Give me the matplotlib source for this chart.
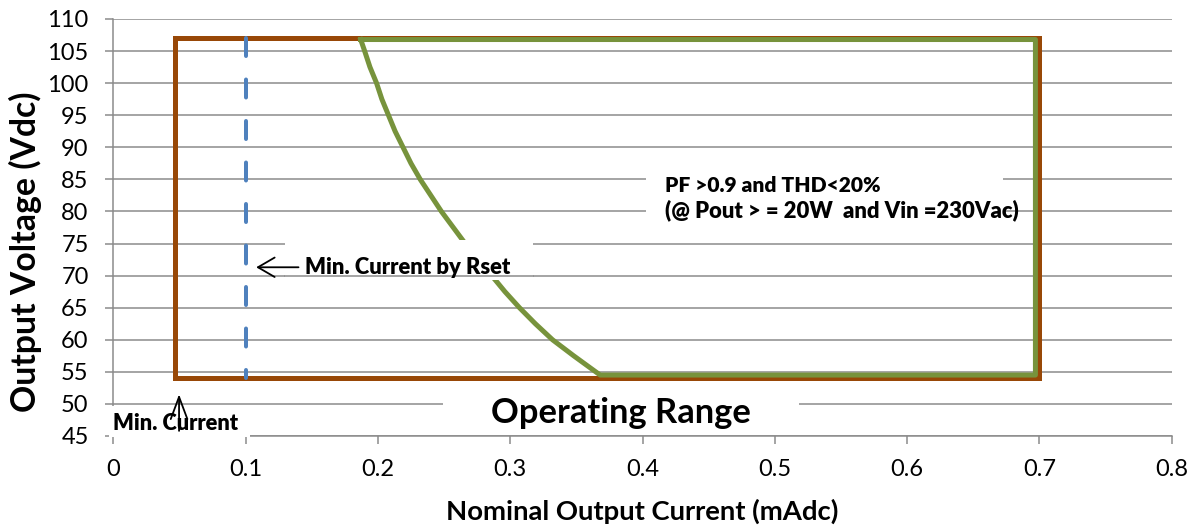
import matplotlib
matplotlib.use("Agg")
import matplotlib.pyplot as plt
from matplotlib.patches import Rectangle

# ---------------- data ----------------
# Operating range box (brown)
range_current = [0.047, 0.047, 0.700, 0.700, 0.047]
range_voltage = [54.0, 107.0, 107.0, 54.0, 54.0]

# Minimum current set by Rset (blue dashed), drawn top to bottom
rset_current = [0.1, 0.1]
rset_voltage = [107.0, 54.0]

# PF / THD region (green): top edge, right edge, bottom edge, 20 W curve back up
pf_current = [0.187, 0.697, 0.697, 0.368, 0.348, 0.332, 0.319, 0.307, 0.296, 0.286, 0.276,
              0.266, 0.257, 0.248, 0.240, 0.232, 0.225, 0.219, 0.213, 0.208, 0.203, 0.199,
              0.194, 0.190, 0.187]
pf_voltage = [106.8, 106.8, 54.5, 54.5, 57.5, 60.0, 62.5, 65.0, 67.5, 70.0, 72.5,
              75.0, 77.5, 80.0, 82.5, 85.0, 87.5, 90.0, 92.5, 95.0, 97.5, 100.0,
              102.5, 105.0, 106.8]

x_ticks = [0, 0.1, 0.2, 0.3, 0.4, 0.5, 0.6, 0.7, 0.8]
x_tick_labels = ["0", "0.1", "0.2", "0.3", "0.4", "0.5", "0.6", "0.7", "0.8"]
y_ticks = list(range(45, 111, 5))

title = "Operating Range"
x_label = "Nominal Output Current (mAdc)"
y_label = "Output Voltage (Vdc)"
note_rset = "Min. Current by Rset"
note_min = "Min. Current"
note_pf1 = "PF >0.9 and THD<20%"
note_pf2 = "(@ Pout > = 20W  and Vin =230Vac)"

# ---------------- style ----------------
FONT = "Lato"
BROWN = "#984807"
GREEN = "#77933C"
BLUE = "#4F81BD"
GRID = "#898989"
PX = 0.72  # points per pixel at dpi 100

plt.rcParams["font.family"] = [FONT, "DejaVu Sans"]
plt.rcParams["lines.scale_dashes"] = False

fig = plt.figure(figsize=(11.97, 5.29), dpi=100)
ax = fig.add_axes([113.3 / 1197, 1 - 436 / 529, (1171.7 - 113.3) / 1197, (436 - 19) / 529])
ax.set_xlim(0, 0.8)
ax.set_ylim(45, 110)

ax.set_xticks(x_ticks)
ax.set_xticklabels(x_tick_labels)
ax.set_yticks(y_ticks)

for s in ["top", "right"]:
    ax.spines[s].set_visible(False)
for s in ["left", "bottom"]:
    ax.spines[s].set_color(GRID)
    ax.spines[s].set_linewidth(1.5 * PX)

ax.tick_params(axis="both", direction="out", color=GRID, width=1.5 * PX, length=8 * PX,
               labelsize=17, labelcolor="black")
ax.tick_params(axis="y", pad=12)
ax.tick_params(axis="x", pad=11)
ax.yaxis.grid(True, color=GRID, lw=1.5 * PX, zorder=0)
ax.set_axisbelow(True)

# lines
ax.plot(range_current, range_voltage, color=BROWN, lw=5 * PX, solid_joinstyle="miter", zorder=3)
ax.plot(pf_current, pf_voltage, color=GREEN, lw=5 * PX, solid_joinstyle="round", zorder=4)
ax.plot(rset_current, rset_voltage, color=BLUE, lw=4 * PX, dash_capstyle="round",
        dashes=(18 * PX, 23.5 * PX), zorder=5)

# white text boxes that hide gridlines / lines behind the notes
def cover(x0, x1, y0, y1, z=6):
    ax.add_patch(Rectangle((x0, y0), x1 - x0, y1 - y0, facecolor="white", edgecolor="none",
                           zorder=z, clip_on=False))

cover(0.1298, 0.3174, 69.3, 75.55)      # Rset note
ax.plot([0.1298, 0.3174], [70, 70], color=GRID, lw=1.5 * PX, zorder=6.5)
cover(0.4027, 0.6727, 77.9, 87.2)       # PF note
cover(0.249, 0.5185, 45.8, 51.1)        # title
cover(-0.003, 0.1035, 44.85, 49.7)      # Min current note

# texts
fig.canvas.draw()
renderer = fig.canvas.get_renderer()

def fit(t, width_px):
    w = t.get_window_extent(renderer).width
    t.set_fontsize(t.get_fontsize() * width_px / w)

t1 = ax.text(0.145, 71.2, note_rset, ha="left", va="center", fontsize=12, fontweight="heavy", zorder=8)
fit(t1, 205)
t2 = ax.text(0.0, 47.0, note_min, ha="left", va="center", fontsize=12, fontweight="heavy", zorder=8)
fit(t2, 125)
t3 = ax.text(0.417, 84.1, note_pf1, ha="left", va="center", fontsize=12, fontweight="heavy", zorder=8)
fit(t3, 215)
t4 = ax.text(0.417, 80.2, note_pf2, ha="left", va="center", fontsize=12, fontweight="heavy", zorder=8)
fit(t4, 352)
t5 = ax.text(0.384, 48.6, title, ha="center", va="center", fontsize=12, fontweight="bold", zorder=8)
fit(t5, 258)
t6 = fig.text(642 / 1197, 1 - 511 / 529, x_label, ha="center", va="center", fontsize=12, fontweight="bold")
fit(t6, 391)
t7 = fig.text(25 / 1197, 1 - 252 / 529, y_label, ha="center", va="center", rotation=90,
              fontsize=12, fontweight="bold")
w7 = t7.get_window_extent(renderer).height
t7.set_fontsize(12 * 318 / w7)

# arrows
arrow_kw = dict(arrowstyle="->,head_length=0.6,head_width=0.35", lw=1.3, color="black",
                mutation_scale=20, shrinkA=0, shrinkB=0)
ax.annotate("", xy=(0.108, 71.3), xytext=(0.140, 71.3), arrowprops=arrow_kw, zorder=9)
arrow_kw2 = dict(arrowstyle="->,head_length=0.8,head_width=0.3", lw=1.3, color="black",
                 mutation_scale=20, shrinkA=0, shrinkB=0)
ax.annotate("", xy=(0.0497, 51.5), xytext=(0.0497, 45.8), arrowprops=arrow_kw2, zorder=9,
            annotation_clip=False)

fig.savefig("out.png", dpi=100)
